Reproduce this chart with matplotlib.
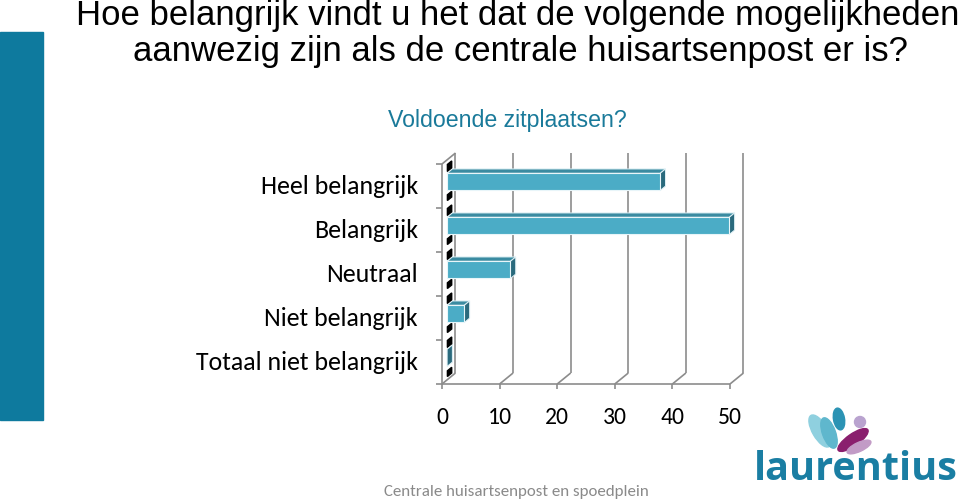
import matplotlib
matplotlib.use("Agg")
import matplotlib.pyplot as plt
from matplotlib.patches import Polygon, Rectangle, Ellipse, Circle
from matplotlib import font_manager

# data
categories = ["Heel belangrijk", "Belangrijk", "Neutraal", "Niet belangrijk", "Totaal niet belangrijk"]
values = [37, 49, 11, 3, 0]
xticks = [0, 10, 20, 30, 40, 50]

title_lines = ["Hoe belangrijk vindt u het dat de volgende mogelijkheden",
               "aanwezig zijn als de centrale huisartsenpost er is?"]
subtitle = "Voldoende zitplaatsen?"
footer = "Centrale huisartsenpost en spoedplein"

# styling
W, H = 960, 502
DX, DY = 2.34, -0.25          # depth offset of the 3d box, in data units
D0, D1 = 0.38, 0.77           # depth range of bars (fraction of box depth)
BAR_H = 0.39
front_c = "#4bacc6"
top_c = "#3a8ba1"
side_c = "#2a6a7d"
grid_c = "#8c8c8c"

installed = {f.name for f in font_manager.fontManager.ttflist}
def pick(*names):
    for n in names:
        if n in installed:
            return n
    return "DejaVu Sans"

calibri = pick("Carlito", "Lato", "Open Sans")
arial = pick("Liberation Sans", "DejaVu Sans")

fig = plt.figure(figsize=(W / 100, H / 100), dpi=100)
fig.patch.set_facecolor("white")

# left side bar
fig.patches.append(Rectangle((0, 1 - 421 / H), 43 / W, (421 - 33) / H,
                             transform=fig.transFigure, color="#0e7a9e", zorder=0))

# titles
fig.text(518 / W, 1 - 15 / H, title_lines[0], ha="center", va="center",
         fontsize=25, family=arial, color="black")
fig.text(520 / W, 1 - 51 / H, title_lines[1], ha="center", va="center",
         fontsize=25, family=arial, color="black")
fig.text(507 / W, 1 - 120 / H, subtitle, ha="center", va="center",
         fontsize=16.7, family=arial, color="#1a7a9a")
fig.text(516 / W, 1 - 492 / H, footer, ha="center", va="center",
         fontsize=12.2, family=calibri, color="#8a8a8a")

# chart axes: front plane of the 3d box
ax = fig.add_axes([442 / W, (H - 385) / H, 288 / W, 220 / H])
ax.set_xlim(0, 50)
ax.set_ylim(4.5, -0.5)
ax.axis("off")

n = len(categories)
ytop, ybot = -0.5, n - 0.5
xmax = xticks[-1]

def line(xs, ys, **kw):
    ax.plot(xs, ys, color=grid_c, lw=1.2, clip_on=False, solid_capstyle="butt", **kw)

# back wall gridlines
for v in xticks:
    line([v + DX, v + DX], [ytop + DY, ybot + DY])
# floor lines
for v in xticks:
    line([v, v + DX], [ybot, ybot + DY])
    line([v, v], [ybot, ybot + 0.12])   # tick
line([0, xmax], [ybot, ybot])
# left wall
line([0, 0], [ytop, ybot])
line([0, DX], [ytop, ytop + DY])
for k in range(n + 1):
    line([-1.0, 0], [ytop + k, ytop + k])

# small dark marks on the left wall
for i in range(n):
    for (a, b) in [(-0.39, -0.23), (0.30, 0.43)]:
        pts = [(0.40 * DX, i + a + 0.40 * DY), (0.72 * DX, i + a + 0.72 * DY),
               (0.72 * DX, i + b + 0.72 * DY), (0.40 * DX, i + b + 0.40 * DY)]
        ax.add_patch(Polygon(pts, closed=True, color="black", clip_on=False, zorder=3))

# bars
for i, v in enumerate(values):
    y0, y1 = i - BAR_H / 2, i + BAR_H / 2
    fx0, fx1 = D0 * DX, v + D0 * DX
    # top face
    top = [(fx0, y0 + D0 * DY), (fx1, y0 + D0 * DY),
           (v + D1 * DX, y0 + D1 * DY), (D1 * DX, y0 + D1 * DY)]
    ax.add_patch(Polygon(top, closed=True, facecolor=top_c, edgecolor="#dff0f5",
                         lw=0.7, clip_on=False, zorder=4))
    # end face
    side = [(fx1, y0 + D0 * DY), (v + D1 * DX, y0 + D1 * DY),
            (v + D1 * DX, y1 + D1 * DY), (fx1, y1 + D0 * DY)]
    ax.add_patch(Polygon(side, closed=True, facecolor=side_c, edgecolor="#dff0f5",
                         lw=0.7, clip_on=False, zorder=4))
    # front face
    if v > 0:
        ax.add_patch(Rectangle((fx0, y0 + D0 * DY), v, BAR_H, facecolor=front_c,
                               edgecolor="#e8f5f9", lw=0.8, clip_on=False, zorder=5))

# labels
for i, c in enumerate(categories):
    ax.text(-4.17, i, c, ha="right", va="center", fontsize=18.6, family=calibri,
            color="black")
for v in xticks:
    ax.text(v, ybot + 0.75, str(v), ha="center", va="center", fontsize=17,
            family=calibri, color="black")

# logo
lg = fig.add_axes([750 / W, 0, 210 / W, 100 / H])
lg.set_xlim(750, 960)
lg.set_ylim(502, 402)
lg.axis("off")
lg.text(856, 470, "laurentius", ha="center", va="center", fontsize=28.5,
        fontweight="bold", family=pick("Open Sans", "Lato"), color="#1a7ea3")
lg.add_patch(Ellipse((820, 432), 15, 36, angle=-30, color="#8fd0df"))
lg.add_patch(Ellipse((829, 434), 13, 32, angle=-20, color="#5fb7cd"))
lg.add_patch(Ellipse((839, 420), 11, 22, angle=-10, color="#2b93b4"))
lg.add_patch(Ellipse((853, 441), 36, 12, angle=-35, color="#8a1f6e"))
lg.add_patch(Ellipse((859, 448), 26, 9, angle=-25, color="#c29bc6"))
lg.add_patch(Circle((860, 423), 5.5, color="#b9a3cf"))

fig.savefig("out.png", dpi=100, facecolor="white")
